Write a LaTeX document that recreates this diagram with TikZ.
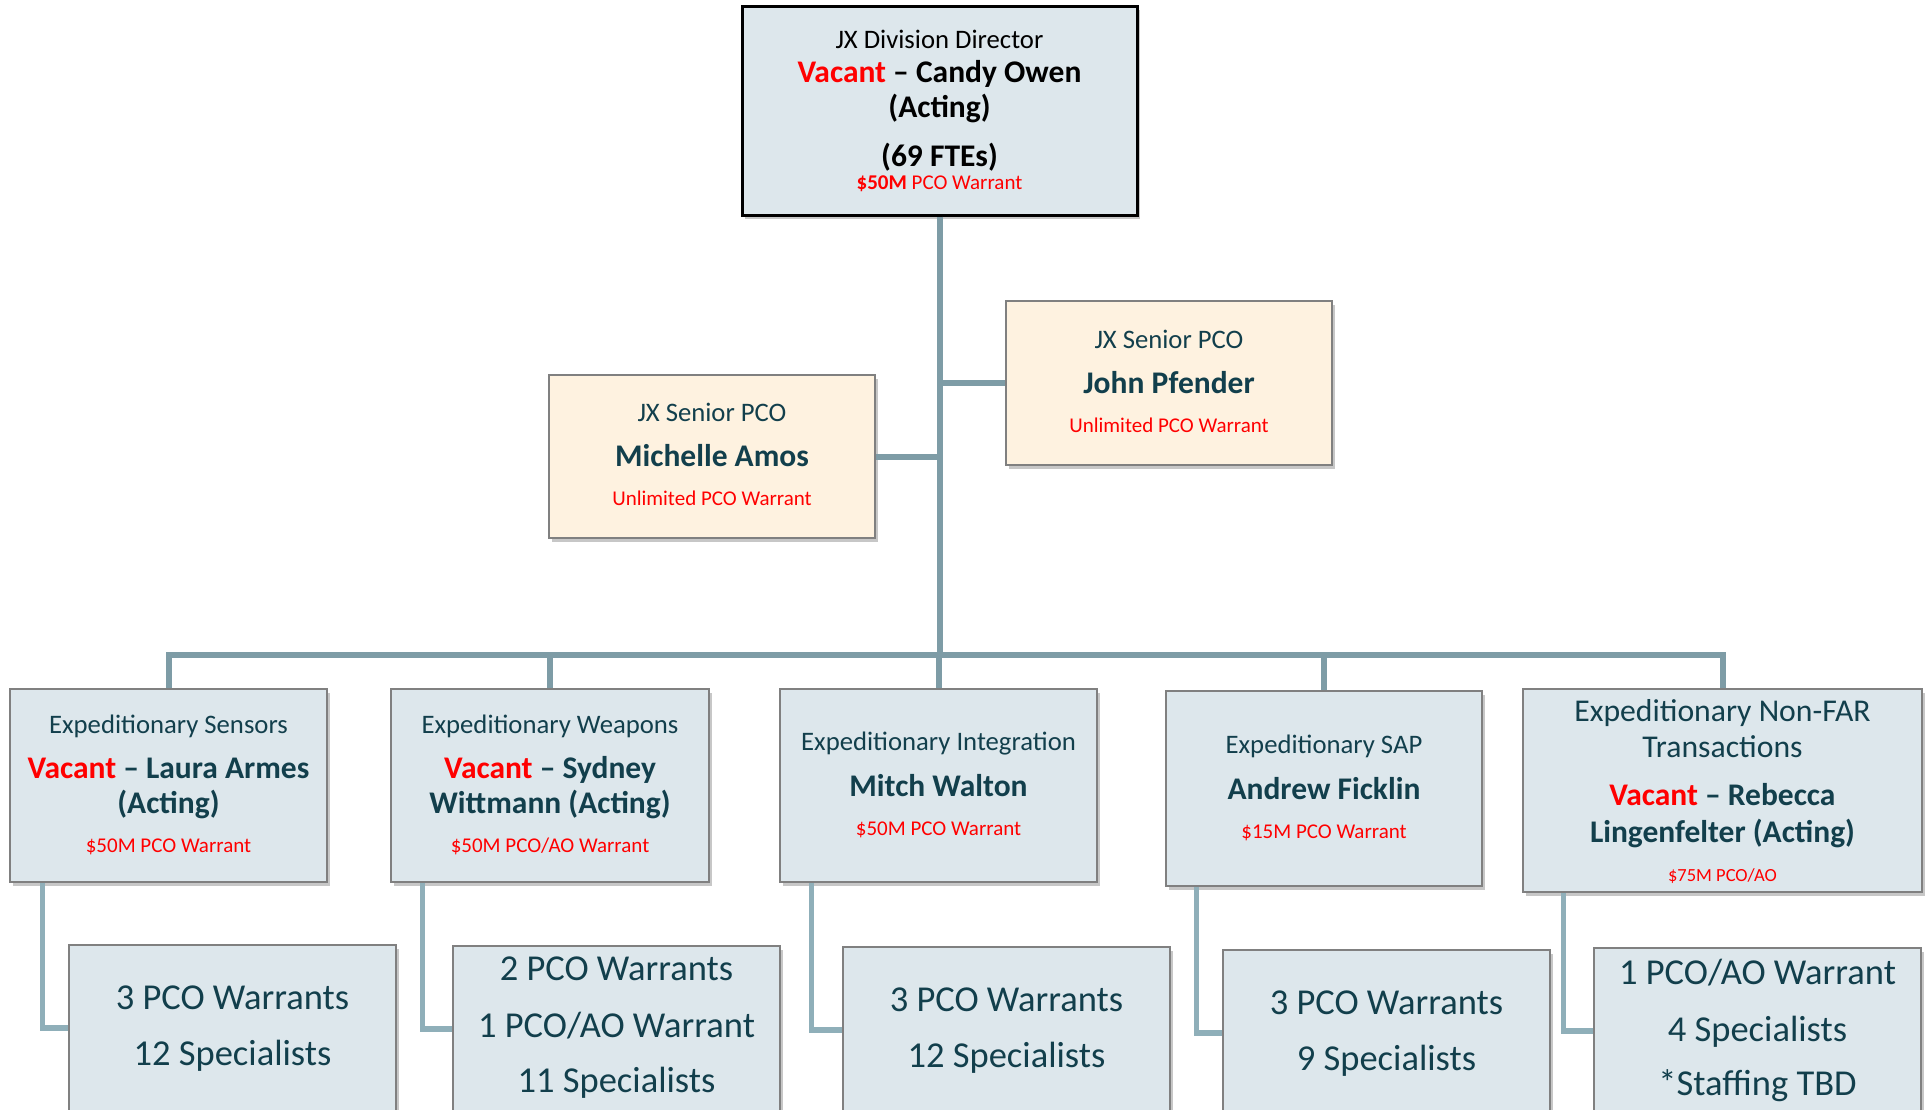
\documentclass[tikz,border=0pt]{standalone}
\usepackage{fontspec}
\setmainfont{Carlito}
\usetikzlibrary{shadows}
\definecolor{boxfill}{HTML}{DDE7EC}
\definecolor{creamfill}{HTML}{FEF2E0}
\definecolor{connc}{HTML}{7E9CA6}
\definecolor{conncb}{HTML}{8FAFB9}
\definecolor{tealtext}{HTML}{123F4C}
\definecolor{bordergrey}{HTML}{808080}
\definecolor{vred}{HTML}{FF0000}
\newcommand\fsReg{\fontsize{26.7pt}{32pt}\selectfont}
\newcommand\fsRegL{\fontsize{31.7pt}{38pt}\selectfont}
\newcommand\fsBold{\fontsize{31.5pt}{38pt}\selectfont\bfseries}
\newcommand\fsRed{\fontsize{21pt}{25pt}\selectfont}
\newcommand\fsRedS{\fontsize{18.5pt}{22pt}\selectfont}
\newcommand\fsBig{\fontsize{36.5pt}{44pt}\selectfont}
\begin{document}
\begin{tikzpicture}[x=1pt,y=-1pt,
  shad/.style={drop shadow={shadow xshift=3pt,shadow yshift=-4pt,fill=black,opacity=0.22}},
  topbox/.style={draw=black,line width=3pt,fill=boxfill,shad,inner sep=0pt},
  bluebox/.style={draw=bordergrey,line width=1.5pt,fill=boxfill,shad,inner sep=0pt},
  creambox/.style={draw=bordergrey,line width=1.5pt,fill=creamfill,shad,inner sep=0pt},
  conn/.style={draw=connc,line width=6pt},
  connb/.style={draw=conncb,line width=5.5pt},
  lbl/.style={inner sep=0pt,anchor=base,text=tealtext},
  redlbl/.style={lbl,text=vred,font=\fsRed}
]
\useasboundingbox (0,0) rectangle (1929,1109);

% ---------- boxes ----------
\node[topbox,minimum width=395pt,minimum height=209pt] (top) at (939.5,110.5) {};
\node[creambox,minimum width=326pt,minimum height=163pt] (mich) at (712,456.5) {};
\node[creambox,minimum width=326pt,minimum height=164pt] (john) at (1169,383) {};

\node[bluebox,minimum width=317pt,minimum height=193pt] (m1) at (168.5,785.5) {};
\node[bluebox,minimum width=318pt,minimum height=193pt] (m2) at (550,785.5) {};
\node[bluebox,minimum width=317pt,minimum height=193pt] (m3) at (938.5,785.5) {};
\node[bluebox,minimum width=316pt,minimum height=195pt] (m4) at (1324,788.5) {};
\node[bluebox,minimum width=399pt,minimum height=203pt] (m5) at (1722.5,790.5) {};

\node[bluebox,minimum width=327pt,minimum height=166pt] (b1) at (232.5,1028) {};
\node[bluebox,minimum width=327pt,minimum height=166pt] (b2) at (616.5,1029) {};
\node[bluebox,minimum width=327pt,minimum height=166pt] (b3) at (1006.5,1030) {};
\node[bluebox,minimum width=327pt,minimum height=166pt] (b4) at (1386.5,1033) {};
\node[bluebox,minimum width=327pt,minimum height=166pt] (b5) at (1757.5,1031) {};

% ---------- connectors ----------
\coordinate (bus) at (939.5,655);
\draw[conn] (top.south) -- (top.south |- bus);
\draw[conn] (m1.north) -- (m1.north |- bus) -- (m5.north |- bus) -- (m5.north);
\draw[conn] (m2.north |- bus) -- (m2.north);
\draw[conn] (m3.north |- bus) -- (m3.north);
\draw[conn] (m4.north |- bus) -- (m4.north);
\draw[conn] (mich.east) -- (mich.east -| top.south);
\draw[conn] (john.west) -- (john.west -| top.south);

\draw[connb] ([xshift=33pt]m1.south west) |- (b1.west);
\draw[connb] ([xshift=32pt]m2.south west) |- (b2.west);
\draw[connb] ([xshift=32pt]m3.south west) |- (b3.west);
\draw[connb] ([xshift=31pt]m4.south west) |- (b4.west);
\draw[connb] ([xshift=41pt]m5.south west) |- (b5.west);

% ---------- texts: director ----------
\node[lbl,text=black,font=\fsReg] (t1) at (939.5,48.5) {JX Division Director};
\node[lbl,text=black,font=\fsBold] (t2) at (939.5,82) {\textcolor{vred}{Vacant} – Candy Owen};
\node[lbl,text=black,font=\fsBold] (t3) at (939.5,117) {(Acting)};
\node[lbl,text=black,font=\fsBold] (t4) at (939.5,166) {(69 FTEs)};
\node[redlbl] (t5) at (939.5,189) {\textbf{\$50M} PCO Warrant};

% ---------- senior PCOs ----------
\node[lbl,font=\fsReg] (ma1) at (712,421.5) {JX Senior PCO};
\node[lbl,font=\fsBold] (ma2) at (712,466) {Michelle Amos};
\node[redlbl] (ma3) at (712,505.7) {Unlimited PCO Warrant};

\node[lbl,font=\fsReg] (jp1) at (1169,348.5) {JX Senior PCO};
\node[lbl,font=\fsBold] (jp2) at (1169,393) {John Pfender};
\node[redlbl] (jp3) at (1169,432.7) {Unlimited PCO Warrant};

% ---------- managers ----------
\node[lbl,font=\fsReg] (s1) at (168.5,733.5) {Expeditionary Sensors};
\node[lbl,font=\fsBold] (s2) at (168.5,778) {\textcolor{vred}{Vacant} – Laura Armes};
\node[lbl,font=\fsBold] (s3) at (168.5,813) {(Acting)};
\node[redlbl] (s4) at (168.5,852.7) {\$50M PCO Warrant};

\node[lbl,font=\fsReg] (w1) at (550,733.5) {Expeditionary Weapons};
\node[lbl,font=\fsBold] (w2) at (550,778) {\textcolor{vred}{Vacant} – Sydney};
\node[lbl,font=\fsBold] (w3) at (550,813) {Wittmann (Acting)};
\node[redlbl] (w4) at (550,852.7) {\$50M PCO/AO Warrant};

\node[lbl,font=\fsReg] (i1) at (938.5,750.5) {Expeditionary Integration};
\node[lbl,font=\fsBold] (i2) at (938.5,796) {Mitch Walton};
\node[redlbl] (i3) at (938.5,835.7) {\$50M PCO Warrant};

\node[lbl,font=\fsReg] (a1) at (1324,753.5) {Expeditionary SAP};
\node[lbl,font=\fsBold] (a2) at (1324,799) {Andrew Ficklin};
\node[redlbl] (a3) at (1324,838.7) {\$15M PCO Warrant};

\node[lbl,font=\fsRegL] (n1) at (1722.5,721) {Expeditionary Non-FAR};
\node[lbl,font=\fsRegL] (n2) at (1722.5,757) {Transactions};
\node[lbl,font=\fsBold] (n3) at (1722.5,805) {\textcolor{vred}{Vacant} – Rebecca};
\node[lbl,font=\fsBold] (n4) at (1722.5,842) {Lingenfelter (Acting)};
\node[redlbl,font=\fsRedS] (n5) at (1722.5,881) {\$75M PCO/AO};

% ---------- staff boxes ----------
\node[lbl,font=\fsBig] (b1a) at (232.5,1009.7) {3 PCO Warrants};
\node[lbl,font=\fsBig] (b1b) at (232.5,1065.7) {12 Specialists};

\node[lbl,font=\fsBig] (b2a) at (616.5,980.7) {2 PCO Warrants};
\node[lbl,font=\fsBig] (b2b) at (616.5,1037.7) {1 PCO/AO Warrant};
\node[lbl,font=\fsBig] (b2c) at (616.5,1092.7) {11 Specialists};

\node[lbl,font=\fsBig] (b3a) at (1006.5,1011.7) {3 PCO Warrants};
\node[lbl,font=\fsBig] (b3b) at (1006.5,1067.7) {12 Specialists};

\node[lbl,font=\fsBig] (b4a) at (1386.5,1014.7) {3 PCO Warrants};
\node[lbl,font=\fsBig] (b4b) at (1386.5,1070.7) {9 Specialists};

\node[lbl,font=\fsBig] (b5a) at (1757.5,984.7) {1 PCO/AO Warrant};
\node[lbl,font=\fsBig] (b5b) at (1757.5,1041.7) {4 Specialists};
\node[lbl,font=\fsBig] (b5c) at (1757.5,1095.7) {*Staffing TBD};
\end{tikzpicture}
\end{document}
